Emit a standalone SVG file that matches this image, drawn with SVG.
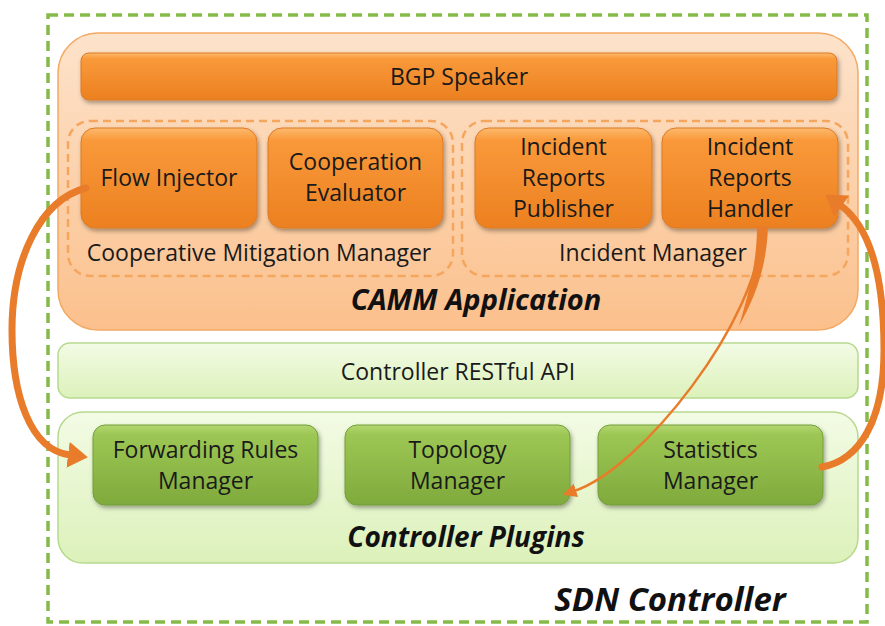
<svg xmlns="http://www.w3.org/2000/svg" width="885" height="626" viewBox="0 0 885 626">
<defs>
  <linearGradient id="gOrange" x1="0" y1="0" x2="0" y2="1">
    <stop offset="0" stop-color="#FDBA6E"/>
    <stop offset="0.12" stop-color="#F9993A"/>
    <stop offset="1" stop-color="#EC8020"/>
  </linearGradient>
  <linearGradient id="gCamm" x1="0" y1="0" x2="0" y2="1">
    <stop offset="0" stop-color="#FDE3CB"/>
    <stop offset="1" stop-color="#FBC08C"/>
  </linearGradient>
  <linearGradient id="gGreen" x1="0" y1="0" x2="0" y2="1">
    <stop offset="0" stop-color="#B2D671"/>
    <stop offset="0.12" stop-color="#9DC754"/>
    <stop offset="1" stop-color="#7FAA3C"/>
  </linearGradient>
  <linearGradient id="gLight" x1="0" y1="0" x2="0" y2="1">
    <stop offset="0" stop-color="#F3FBE5"/>
    <stop offset="1" stop-color="#DCF1BA"/>
  </linearGradient>
  <filter id="shadow" x="-10%" y="-10%" width="125%" height="135%">
    <feDropShadow dx="1.5" dy="2.5" stdDeviation="2" flood-color="#000" flood-opacity="0.35"/>
  </filter>
  <marker id="headBig" viewBox="0 0 20 26" refX="2" refY="13" markerWidth="20" markerHeight="26" markerUnits="userSpaceOnUse" orient="auto">
    <path d="M0,0 L20,13 L0,26 z" fill="#E87C2A"/>
  </marker>
  <marker id="headSmall" viewBox="0 0 14 14" refX="2" refY="7" markerWidth="14" markerHeight="14" markerUnits="userSpaceOnUse" orient="auto">
    <path d="M0,0 L14,7 L0,14 z" fill="#E87C2A"/>
  </marker>
  <style>
    .txt { font-family: "Open Sans", "Liberation Sans", sans-serif; font-size: 23px; fill: #1a1a1a; text-anchor: middle; }
    .title { font-family: "Open Sans", "Liberation Sans", sans-serif; font-weight: 700; font-style: italic; fill: #111; text-anchor: middle; }
    .onode { fill: url(#gOrange); stroke: #DB7A26; stroke-width: 1; filter: url(#shadow); }
    .gnode { fill: url(#gGreen); stroke: #739E3A; stroke-width: 1; filter: url(#shadow); }
    .lpanel { fill: url(#gLight); stroke: #B6D98E; stroke-width: 1.5; }
    .ogroup { fill: none; stroke: #F5A65E; stroke-width: 2.5; stroke-dasharray: 8 5; }
    .arrow { fill: none; stroke: #E87C2A; stroke-linecap: round; }
  </style>
</defs>

<g id="sdn-controller">
  <rect x="48" y="15" width="819" height="607" fill="#FFFFFF" stroke="#86BA48" stroke-width="3.5" stroke-dasharray="10 6"/>
  <text class="title" x="670" y="611" font-size="33">SDN Controller</text>
</g>

<g id="camm-application">
  <rect x="58" y="33" width="800" height="297" rx="40" fill="url(#gCamm)" stroke="#F3A964" stroke-width="1.5"/>
  <text class="title" x="476" y="310" font-size="29">CAMM Application</text>
</g>

<g id="bgp-speaker">
  <rect class="onode" x="81" y="53" width="756" height="47" rx="8"/>
  <text class="txt" x="459" y="85">BGP Speaker</text>
</g>

<g id="cooperative-mitigation-manager">
  <rect class="ogroup" x="68" y="121" width="385" height="155" rx="22"/>
  <text class="txt" x="259" y="261">Cooperative Mitigation Manager</text>
</g>

<g id="incident-manager">
  <rect class="ogroup" x="462" y="121" width="386" height="155" rx="22"/>
  <text class="txt" x="653" y="261">Incident Manager</text>
</g>

<g id="flow-injector">
  <rect class="onode" x="81" y="128" width="176" height="100" rx="14"/>
  <text class="txt" x="169" y="186">Flow Injector</text>
</g>

<g id="cooperation-evaluator">
  <rect class="onode" x="268" y="128" width="175" height="100" rx="14"/>
  <text class="txt" x="355.5" y="170">Cooperation</text>
  <text class="txt" x="355.5" y="201">Evaluator</text>
</g>

<g id="incident-reports-publisher">
  <rect class="onode" x="475" y="128" width="177" height="100" rx="14"/>
  <text class="txt" x="563.5" y="155">Incident</text>
  <text class="txt" x="563.5" y="186">Reports</text>
  <text class="txt" x="563.5" y="217">Publisher</text>
</g>

<g id="incident-reports-handler">
  <rect class="onode" x="662" y="128" width="176" height="100" rx="14"/>
  <text class="txt" x="750" y="155">Incident</text>
  <text class="txt" x="750" y="186">Reports</text>
  <text class="txt" x="750" y="217">Handler</text>
</g>

<g id="controller-restful-api">
  <rect class="lpanel" x="58" y="343" width="800" height="55" rx="12"/>
  <text class="txt" x="458" y="380">Controller RESTful API</text>
</g>

<g id="controller-plugins">
  <rect class="lpanel" x="58" y="412" width="800" height="151" rx="25"/>
  <text class="title" x="466" y="547" font-size="28">Controller Plugins</text>
</g>

<g id="forwarding-rules-manager">
  <rect class="gnode" x="93" y="425" width="225" height="80" rx="12"/>
  <text class="txt" x="205.5" y="458">Forwarding Rules</text>
  <text class="txt" x="205.5" y="489">Manager</text>
</g>

<g id="topology-manager">
  <rect class="gnode" x="345" y="425" width="225" height="80" rx="12"/>
  <text class="txt" x="457.5" y="458">Topology</text>
  <text class="txt" x="457.5" y="489">Manager</text>
</g>

<g id="statistics-manager">
  <rect class="gnode" x="598" y="425" width="225" height="80" rx="12"/>
  <text class="txt" x="710.5" y="458">Statistics</text>
  <text class="txt" x="710.5" y="489">Manager</text>
</g>

<g id="connectors">
  <path class="arrow" d="M 86 188 C 40 200, 12 260, 12 330 C 12 395, 30 450, 70 455" stroke-width="7" marker-end="url(#headBig)"/>
  <path class="arrow" d="M 762 228 C 760 320, 640 470, 574 491" stroke-width="2.5" marker-end="url(#headSmall)"/>
  <path d="M 757 226 L 768 226 C 767 262, 758 292, 739 326 C 749 292, 757 262, 757 226 Z" fill="#E87C2A"/>
  <path class="arrow" d="M 822 467 C 860 460, 884 420, 884 350 C 884 270, 868 225, 840 205" stroke-width="7" marker-end="url(#headBig)"/>
</g>
</svg>
